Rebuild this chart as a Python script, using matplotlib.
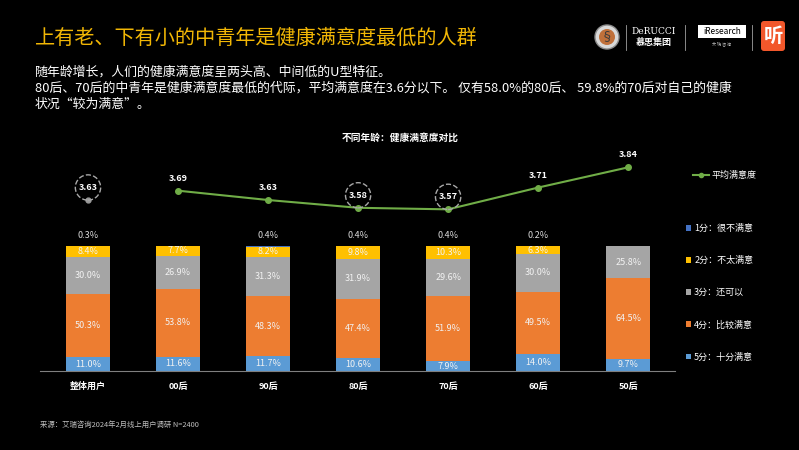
import matplotlib.pyplot as plt
import matplotlib.patches as mpatches
from matplotlib.lines import Line2D
import numpy as np

plt.rcParams['font.family'] = ['Noto Sans CJK SC', 'DejaVu Sans']

# data
categories = ['整体用户', '00后', '90后', '80后', '70后', '60后', '50后']
score5 = [11.0, 11.6, 11.7, 10.6, 7.9, 14.0, 9.7]
score4 = [50.3, 53.8, 48.3, 47.4, 51.9, 49.5, 64.5]
score3 = [30.0, 26.9, 31.3, 31.9, 29.6, 30.0, 25.8]
score2 = [8.4, 7.7, 8.2, 9.8, 10.3, 6.3, 0.0]
score1 = [0.3, 0.0, 0.4, 0.4, 0.4, 0.2, 0.0]
avg_all = 3.63
avg_groups = [3.69, 3.63, 3.58, 3.57, 3.71, 3.84]
circled = ['整体用户', '80后', '70后']

series = [('5分：十分满意', score5, '#5B9BD5'),
          ('4分：比较满意', score4, '#ED7D31'),
          ('3分：还可以', score3, '#A5A5A5'),
          ('2分：不太满意', score2, '#FFC000'),
          ('1分：很不满意', score1, '#4472C4')]

fig = plt.figure(figsize=(7.99, 4.5), dpi=100, facecolor='black')
ax = fig.add_axes([40 / 799, 79 / 450, 635 / 799, 241 / 450])
ax.set_facecolor('none')
x = np.arange(len(categories))
bottom = np.zeros(len(categories))
handles = {}
for name, vals, col in series:
    vals = np.array(vals)
    bars = ax.bar(x, vals, 0.49, bottom=bottom, color=col, label=name)
    handles[name] = bars
    for i, v in enumerate(vals):
        if v <= 0:
            continue
        if name.startswith('1分'):
            ax.text(x[i], bottom[i] + v + 5, f'{v:.1f}%', ha='center', va='bottom',
                    color='#D9D9D9', fontsize=6.5)
        else:
            ax.text(x[i], bottom[i] + v / 2, f'{v:.1f}%', ha='center', va='center',
                    color='#F2F2F2', fontsize=6.5)
    bottom += vals

ax.set_xlim(-0.533, 6.52)
ax.set_ylim(0, 192.8)
ax.set_yticks([])
ax.set_xticks(x)
ax.set_xticklabels(categories, color='white', fontsize=6.5, fontweight='bold')
ax.tick_params(axis='x', length=0, pad=8)
for s in ['top', 'right', 'left']:
    ax.spines[s].set_visible(False)
ax.spines['bottom'].set_color('#7F7F7F')

# average line
ax2 = ax.twinx()
ax2.set_ylim(2.531, 4.080)
ax2.axis('off')
line, = ax2.plot(x[1:], avg_groups, color='#70AD47', lw=1.5, marker='o', ms=4)
ax2.plot([x[0]], [avg_all], 'o', color='#9A9A9A', ms=3.5)
all_vals = [avg_all] + avg_groups
for i, v in enumerate(all_vals):
    if categories[i] in circled:
        ax2.annotate(f'{v:.2f}', (x[i], v), xytext=(0, 9), textcoords='offset points',
                     ha='center', va='center', color='white', fontsize=6.5, fontweight='bold',
                     bbox=dict(boxstyle='circle,pad=0.35', fc='none', ec='#A8A8A8', ls='--', lw=1))
    else:
        ax2.annotate(f'{v:.2f}', (x[i], v), xytext=(0, 9), textcoords='offset points',
                     ha='center', va='center', color='white', fontsize=6.5, fontweight='bold')

# legends
order = ['1分：很不满意', '2分：不太满意', '3分：还可以', '4分：比较满意', '5分：十分满意']
leg = fig.legend([handles[k] for k in order], order, loc='upper left',
                 bbox_to_anchor=(686 / 799, 1 - 224 / 450), frameon=False, fontsize=6.5,
                 labelcolor='white', handlelength=0.6, handleheight=0.6, handletextpad=0.3,
                 labelspacing=2.55, borderpad=0, borderaxespad=0)
leg2 = fig.legend([Line2D([0], [0], color='#70AD47', lw=1.5, marker='o', ms=3)], ['平均满意度'],
                  loc='upper left', bbox_to_anchor=(693 / 799, 1 - 171 / 450), frameon=False,
                  fontsize=6.5, labelcolor='white', handlelength=1.8, handletextpad=0.2,
                  borderpad=0, borderaxespad=0)

# texts
fig.text(35 / 799, 1 - 38 / 450, '上有老、下有小的中青年是健康满意度最低的人群', color='#F2B705',
         fontsize=14.5, va='center', ha='left')
sub = ['随年龄增长，人们的健康满意度呈两头高、中间低的U型特征。',
       '80后、70后的中青年是健康满意度最低的代际，平均满意度在3.6分以下。 仅有58.0%的80后、 59.8%的70后对自己的健康',
       '状况“较为满意”。']
for i, s in enumerate(sub):
    fig.text(35 / 799, 1 - (72 + 16 * i) / 450, s, color='white', fontsize=9.3, va='center')
fig.text(400 / 799, 1 - 138 / 450, '不同年龄：健康满意度对比', color='white', fontsize=7,
         fontweight='bold', ha='center', va='center')
fig.text(40 / 799, 1 - 425 / 450, '来源：艾瑞咨询2024年2月线上用户调研 N=2400', color='#BFBFBF',
         fontsize=5.3, va='center')

# logos (decoration)
deco = fig.add_axes([0, 0, 1, 1])
deco.set_xlim(0, 799)
deco.set_ylim(450, 0)
deco.axis('off')
deco.add_patch(mpatches.Circle((607, 37), 12, fc='#D9D9D9', ec='#8C8C8C', lw=1))
deco.add_patch(mpatches.Circle((607, 37), 8, fc='#C0703A', ec='none'))
deco.text(607, 37, '§', color='#3A3A3A', fontsize=9, ha='center', va='center')
deco.plot([626, 626], [25, 50], color='#A0A0A0', lw=0.6)
deco.text(654, 31, 'DeRUCCI', color='white', fontsize=6.5, ha='center', va='center', family='DejaVu Serif')
deco.text(654, 43, '慕思集团', color='white', fontsize=6.5, ha='center', va='center', fontweight='bold')
deco.plot([685, 685], [25, 50], color='#A0A0A0', lw=0.6)
deco.add_patch(mpatches.Rectangle((698, 25), 48, 13, fc='white', ec='none'))
deco.text(722, 31.5, 'iResearch', color='black', fontsize=6, ha='center', va='center', style='italic')
deco.text(722, 44, '艾 瑞 咨 询', color='#BFBFBF', fontsize=3, ha='center', va='center')
deco.plot([752, 752], [25, 50], color='#A0A0A0', lw=0.6)
deco.add_patch(mpatches.FancyBboxPatch((761, 21), 24, 30, boxstyle='round,pad=0,rounding_size=3',
                                       fc='#F2572B', ec='none'))
deco.text(773, 36, '听', color='white', fontsize=14, ha='center', va='center', fontweight='bold')

fig.savefig('out.png', dpi=100, facecolor='black')
